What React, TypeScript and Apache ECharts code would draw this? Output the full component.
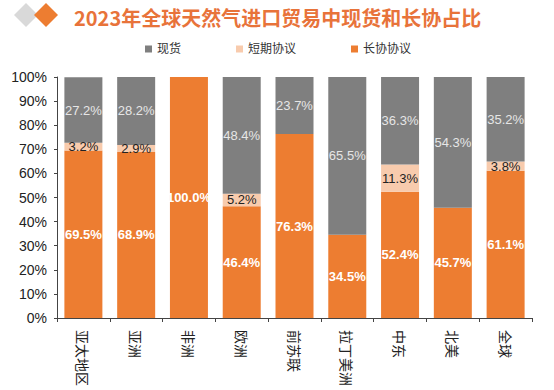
import React, { useEffect, useRef } from "react";
import * as echarts from "echarts";

const categories = ["亚太地区", "亚洲", "非洲", "欧洲", "前苏联", "拉丁美洲", "中东", "北美", "全球"];
const longTerm = [69.5, 68.9, 100.0, 46.4, 76.3, 34.5, 52.4, 45.7, 61.1];
const shortTerm = [3.2, 2.9, 0, 5.2, 0, 0, 11.3, 0, 3.8];
const spot = [27.2, 28.2, 0, 48.4, 23.7, 65.5, 36.3, 54.3, 35.2];
const yTicks = [0, 10, 20, 30, 40, 50, 60, 70, 80, 90, 100];

const titleText = "2023年全球天然气进口贸易中现货和长协占比";

export default function App() {
  const ref = useRef<HTMLDivElement>(null);
  useEffect(() => {
    if (!ref.current) return;
    const chart = echarts.init(ref.current, null, { renderer: "svg" });
    const fontFamily = "'Liberation Sans', Arial, 'Noto Sans CJK SC', sans-serif";
    const fmt = (p: any) => (p.value > 0 ? p.value.toFixed(1) + "%" : "");
    chart.setOption({
      animation: false,
      backgroundColor: "#ffffff",
      textStyle: { fontFamily },
      title: {
        text: titleText,
        left: 69,
        top: 2,
        textStyle: {
          color: "#E8733A",
          fontSize: 20,
          fontWeight: "bold",
          fontFamily: "'Noto Sans CJK SC', sans-serif",
        },
      },
      graphic: [
        {
          type: "polygon",
          shape: { points: [[26, 3], [38, 15], [26, 27], [14, 15]] },
          style: { fill: "#D9D9D9" },
        },
        {
          type: "polygon",
          shape: { points: [[46, 3], [58, 15], [46, 27], [34, 15]] },
          style: { fill: "#ED7D31" },
        },
      ],
      legend: {
        left: 140,
        top: 38,
        itemWidth: 7,
        itemHeight: 7,
        itemGap: 55,
        icon: "rect",
        textStyle: { fontSize: 12, color: "#333", fontFamily },
        data: ["现货", "短期协议", "长协协议"],
      },
      grid: { left: 57, right: 22, top: 77, bottom: 72 },
      xAxis: {
        type: "category",
        data: categories,
        axisLine: { show: true, lineStyle: { color: "#444", width: 1 } },
        axisTick: { show: true, alignWithLabel: false, length: 4, lineStyle: { color: "#444" } },
        axisLabel: {
          rotate: -90,
          fontSize: 14,
          color: "#222",
          margin: 12,
          fontFamily: "'Noto Sans CJK SC', sans-serif",
        },
      },
      yAxis: {
        type: "value",
        min: 0,
        max: 100,
        interval: 10,
        axisLine: { show: true, lineStyle: { color: "#444", width: 1 } },
        axisTick: { show: true, length: 3, lineStyle: { color: "#444" } },
        splitLine: { show: false },
        axisLabel: {
          fontSize: 14,
          color: "#222",
          margin: 10,
          formatter: (v: number) => (yTicks.includes(v) ? v + "%" : ""),
        },
      },
      series: [
        {
          name: "长协协议",
          type: "bar",
          stack: "s",
          barWidth: "72%",
          data: longTerm,
          itemStyle: { color: "#ED7D31" },
          label: {
            show: true,
            position: "inside",
            color: "#ffffff",
            fontWeight: "bold",
            fontSize: 13,
            formatter: fmt,
          },
        },
        {
          name: "短期协议",
          type: "bar",
          stack: "s",
          data: shortTerm,
          itemStyle: { color: "#F8CBAD" },
          label: {
            show: true,
            position: "inside",
            color: "#222",
            fontSize: 13,
            formatter: fmt,
          },
        },
        {
          name: "现货",
          type: "bar",
          stack: "s",
          data: spot,
          itemStyle: { color: "#7F7F7F" },
          label: {
            show: true,
            position: "inside",
            color: "#E6E6E6",
            fontSize: 13,
            formatter: fmt,
          },
        },
      ],
    });
    return () => chart.dispose();
  }, []);
  return <div ref={ref} style={{ width: 554, height: 390, position: "absolute", left: 0, top: 0 }} />;
}
